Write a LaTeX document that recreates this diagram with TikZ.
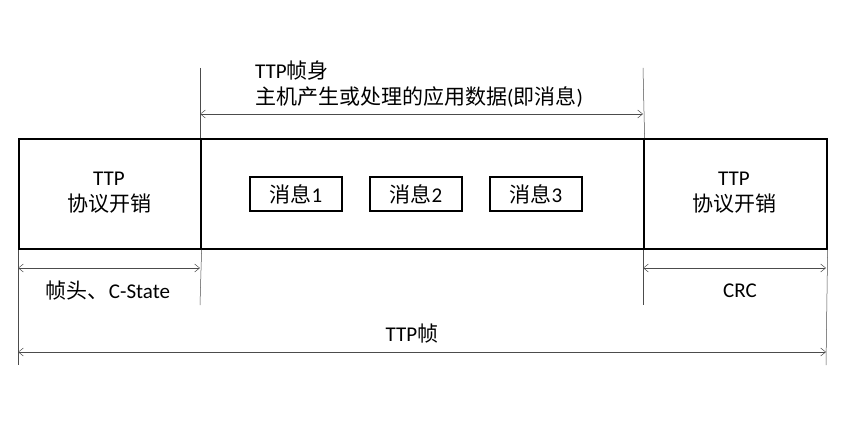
\documentclass[tikz,border=0pt]{standalone}
\usepackage{fontspec}
\setmainfont{Carlito}
\newfontfamily\cjk{Noto Sans CJK SC}
\usetikzlibrary{arrows.meta}
\begin{document}
\begin{tikzpicture}[x=1pt,y=-1pt,
  txt/.style={font=\fontsize{21}{26}\selectfont, inner sep=0pt, align=center},
  frame/.style={draw, line width=1.6pt},
  msg/.style={draw, line width=1.3pt, minimum width=92pt, minimum height=34pt, inner sep=0pt, font=\fontsize{21}{26}\selectfont},
  ext/.style={draw, line width=0.5pt, gray!60!black},
  dim/.style={draw, line width=0.5pt, gray!60!black, {Straight Barb[length=5pt,width=8pt]}-{Straight Barb[length=5pt,width=8pt]}}]
\useasboundingbox (0,0) rectangle (865,444);
\node[frame, minimum width=182pt, minimum height=110pt, inner sep=0pt, anchor=north west] (hdr) at (18,138) {};
\node[frame, minimum width=443pt, minimum height=110pt, inner sep=0pt, anchor=north west] (body) at (200,138) {};
\node[frame, minimum width=183pt, minimum height=110pt, inner sep=0pt, anchor=north west] (crc) at (643,138) {};
\node[txt] (t1) at (109,193) {TTP\\{\cjk 协议开销}};
\node[txt] (t2) at (734,193) {TTP\\{\cjk 协议开销}};
\node[msg] (m1) at (296,194) {{\cjk 消息}1};
\node[msg] (m2) at (416,194) {{\cjk 消息}2};
\node[msg] (m3) at (536,194) {{\cjk 消息}3};
\coordinate (a1) at (200,68); \coordinate (a2) at (643,68);
\draw[ext] (a1) -- (body.north west);
\draw[ext] (a2) -- (body.north east);
\coordinate (b0) at (18,365); \coordinate (b1) at (200,305);
\coordinate (b2) at (643,305); \coordinate (b3) at (826,365);
\draw[ext] (hdr.south west) -- (b0);
\draw[ext] (hdr.south east) -- (b1);
\draw[ext] (crc.south west) -- (b2);
\draw[ext] (crc.south east) -- (b3);
\coordinate (d1) at (200,114); \coordinate (d2) at (643,114);
\draw[dim] (d1) -- (d2);
\node[txt, align=left, anchor=south west] (lb) at (255,108) {TTP{\cjk 帧身}\\{\cjk 主机产生或处理的应用数据}({\cjk 即消息})};
\coordinate (e0) at (18,268); \coordinate (e1) at (200,268);
\coordinate (e2) at (643,268); \coordinate (e3) at (826,268);
\draw[dim] (e0) -- (e1);
\draw[dim] (e2) -- (e3);
\node[txt] (l1) at (108,291) {{\cjk 帧头、}C-State};
\node[txt] (l2) at (740,291) {CRC};
\coordinate (f0) at (18,352); \coordinate (f1) at (826,352);
\draw[dim] (f0) -- (f1);
\node[txt] (l3) at (412,334) {TTP{\cjk 帧}};
\end{tikzpicture}
\end{document}
